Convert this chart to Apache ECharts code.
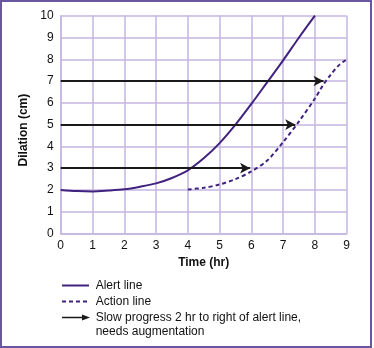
<!DOCTYPE html>
<html>
<head>
<meta charset="utf-8">
<script src="https://cdn.jsdelivr.net/npm/echarts@6/dist/echarts.min.js"></script>
<style>html,body{margin:0;padding:0;background:#fff}#c{width:374px;height:348px}</style>
</head>
<body>
<div id="c"></div>
<script>
// Data
var alertX = [0, 0.5, 1, 1.5, 2, 2.5, 3, 3.5, 4, 4.5, 5, 5.5, 6, 6.5, 7, 7.5, 8];
var alertY = [2, 1.95, 1.93, 1.97, 2.03, 2.15, 2.3, 2.55, 2.9, 3.45, 4.15, 5, 5.95, 6.95, 7.95, 9, 10];
var actionX = [4, 4.5, 5, 5.5, 6, 6.5, 7, 7.5, 8, 8.25, 8.5, 8.75, 9];
var actionY = [2.02, 2.1, 2.25, 2.5, 2.85, 3.35, 4.2, 5.15, 6.2, 6.8, 7.3, 7.72, 8.0];
var arrowY = [3, 5, 7];
var arrowStart = [0, 0, 0];
var arrowEnd = [5.96, 7.38, 8.27];
var xTicks = [0, 1, 2, 3, 4, 5, 6, 7, 8, 9];
var yTicks = [0, 1, 2, 3, 4, 5, 6, 7, 8, 9, 10];
var legendLabels = ['Alert line', 'Action line', 'Slow progress 2 hr to right of alert line,\nneeds augmentation'];

var purple = '#41237f';
var gridColor = '#c5b6e0';
var font = '"Liberation Sans", Arial, Helvetica, sans-serif';

function pair(xs, ys) { return xs.map(function (x, i) { return [x, ys[i]]; }); }

var chart = echarts.init(document.getElementById('c'), null, { renderer: 'canvas' });
var option = {
  animation: false,
  backgroundColor: '#fff',
  grid: { left: 60.7, right: 27.3, top: 15.7, bottom: 114.5, containLabel: false },
  xAxis: {
    type: 'value', min: xTicks[0], max: xTicks[xTicks.length - 1], interval: 1,
    name: 'Time (hr)', nameLocation: 'middle', nameGap: 20,
    nameTextStyle: { fontFamily: font, fontSize: 12, fontWeight: 'bold', color: '#111' },
    axisLine: { show: true, lineStyle: { color: gridColor, width: 1.5 } },
    axisTick: { show: false },
    axisLabel: { margin: 6, fontFamily: font, fontSize: 12, color: '#111' },
    splitLine: { show: true, lineStyle: { color: gridColor, width: 1.5 } }
  },
  yAxis: {
    type: 'value', min: yTicks[0], max: yTicks[yTicks.length - 1], interval: 1,
    name: 'Dilation (cm)', nameLocation: 'middle', nameGap: 22, nameRotate: 90,
    nameTextStyle: { fontFamily: font, fontSize: 12, fontWeight: 'bold', color: '#111', padding: [0, 11, 0, 0] },
    axisLine: { show: true, lineStyle: { color: gridColor, width: 1.5 } },
    axisTick: { show: false },
    axisLabel: { margin: 7, fontFamily: font, fontSize: 12, color: '#111' },
    splitLine: { show: true, lineStyle: { color: gridColor, width: 1.5 } }
  },
  series: [
    {
      name: 'Slow progress', type: 'line', data: [], symbol: 'none', silent: true,
      markLine: {
        silent: true, symbol: ['none', 'arrow'], symbolSize: [8, 10],
        label: { show: false },
        lineStyle: { color: '#1a1a1a', width: 2, type: 'solid' },
        emphasis: { disabled: true },
        data: arrowY.map(function (y, i) { return [{ coord: [arrowStart[i], y] }, { coord: [arrowEnd[i], y] }]; })
      }
    },
    {
      name: 'Alert line', type: 'line', smooth: 0.3, symbol: 'none',
      lineStyle: { color: purple, width: 2 },
      data: pair(alertX, alertY)
    },
    {
      name: 'Action line', type: 'line', smooth: 0.3, symbol: 'none',
      lineStyle: { color: purple, width: 2, type: [4, 3] },
      data: pair(actionX, actionY)
    }
  ],
  graphic: [
    { type: 'rect', shape: { x: 1, y: 1, width: 370, height: 346 }, style: { fill: 'none', stroke: '#6a55a0', lineWidth: 2 }, silent: true },
    { type: 'line', shape: { x1: 62, y1: 285.5, x2: 89, y2: 285.5 }, style: { stroke: purple, lineWidth: 2 } },
    { type: 'text', x: 95.7, y: 285.5, style: { text: legendLabels[0], font: '12px ' + font, fill: '#111', verticalAlign: 'middle' } },
    { type: 'line', shape: { x1: 62, y1: 301.5, x2: 89, y2: 301.5 }, style: { stroke: purple, lineWidth: 2, lineDash: [4, 3] } },
    { type: 'text', x: 95.7, y: 301.5, style: { text: legendLabels[1], font: '12px ' + font, fill: '#111', verticalAlign: 'middle' } },
    { type: 'line', shape: { x1: 62, y1: 317.5, x2: 83, y2: 317.5 }, style: { stroke: '#1a1a1a', lineWidth: 1.5 } },
    { type: 'polygon', shape: { points: [[82, 314.5], [90, 317.5], [82, 320.5]] }, style: { fill: '#1a1a1a' } },
    { type: 'text', x: 95.7, y: 311, style: { text: legendLabels[2], font: '12px ' + font, fill: '#111', lineHeight: 14, verticalAlign: 'top' } }
  ]
};
chart.setOption(option);
</script>
</body>
</html>
